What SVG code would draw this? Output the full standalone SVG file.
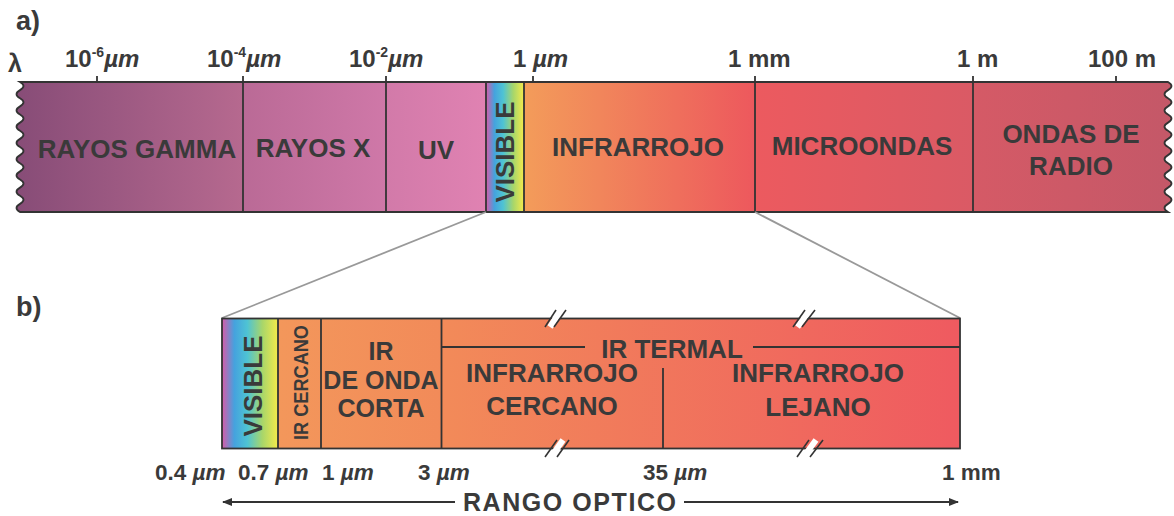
<svg xmlns="http://www.w3.org/2000/svg" width="1174" height="516" viewBox="0 0 1174 516">
<defs>
<style>
.t{font-family:"Liberation Sans",Arial,sans-serif;font-weight:bold;fill:#3a3a3a}
.lb{font-size:26px;text-anchor:middle}
.lc{font-size:25px;text-anchor:middle}
.tk{font-size:24px}
.bt{font-size:22.5px}
.div{stroke:#333;stroke-width:1.8;fill:none}
.cn{stroke:#999;stroke-width:1.8;fill:none}
.sl{stroke:#333;stroke-width:1.6}
.gap{stroke:#fff;stroke-width:6}
</style>
<linearGradient id="gGamma" gradientUnits="userSpaceOnUse" x1="15" y1="0" x2="243" y2="0"><stop offset="0" stop-color="#874c77"/><stop offset="1" stop-color="#b6698f"/></linearGradient>
<linearGradient id="gX" gradientUnits="userSpaceOnUse" x1="243" y1="0" x2="386" y2="0"><stop offset="0" stop-color="#ba6a96"/><stop offset="1" stop-color="#cf78a8"/></linearGradient>
<linearGradient id="gUV" gradientUnits="userSpaceOnUse" x1="386" y1="0" x2="486" y2="0"><stop offset="0" stop-color="#d27aa9"/><stop offset="1" stop-color="#e082b2"/></linearGradient>
<linearGradient id="gVis" x1="0" y1="0" x2="1" y2="0"><stop offset="0" stop-color="#d85aa8"/><stop offset="0.22" stop-color="#45a2de"/><stop offset="0.45" stop-color="#4ec3d4"/><stop offset="0.72" stop-color="#a8d66a"/><stop offset="1" stop-color="#f5ea4a"/></linearGradient>
<linearGradient id="gIR" gradientUnits="userSpaceOnUse" x1="524" y1="0" x2="755" y2="0"><stop offset="0" stop-color="#f39c5a"/><stop offset="1" stop-color="#ed585d"/></linearGradient>
<linearGradient id="gMW" gradientUnits="userSpaceOnUse" x1="755" y1="0" x2="973" y2="0"><stop offset="0" stop-color="#ec5a5f"/><stop offset="1" stop-color="#da5a65"/></linearGradient>
<linearGradient id="gRad" gradientUnits="userSpaceOnUse" x1="973" y1="0" x2="1172" y2="0"><stop offset="0" stop-color="#d55a66"/><stop offset="1" stop-color="#c45868"/></linearGradient>
<linearGradient id="gB" gradientUnits="userSpaceOnUse" x1="278" y1="0" x2="960" y2="0"><stop offset="0" stop-color="#f3975b"/><stop offset="0.25" stop-color="#f28a59"/><stop offset="1" stop-color="#ef5a60"/></linearGradient>
<clipPath id="barClip"><path id="barPath" d="M20,82 H1168 q7,4.0625 0,8.125 q-7,4.0625 0,8.125 q7,4.0625 0,8.125 q-7,4.0625 0,8.125 q7,4.0625 0,8.125 q-7,4.0625 0,8.125 q7,4.0625 0,8.125 q-7,4.0625 0,8.125 q7,4.0625 0,8.125 q-7,4.0625 0,8.125 q7,4.0625 0,8.125 q-7,4.0625 0,8.125 q7,4.0625 0,8.125 q-7,4.0625 0,8.125 q7,4.0625 0,8.125 q-7,4.0625 0,8.125 H20 q-7,-4.0625 0,-8.125 q7,-4.0625 0,-8.125 q-7,-4.0625 0,-8.125 q7,-4.0625 0,-8.125 q-7,-4.0625 0,-8.125 q7,-4.0625 0,-8.125 q-7,-4.0625 0,-8.125 q7,-4.0625 0,-8.125 q-7,-4.0625 0,-8.125 q7,-4.0625 0,-8.125 q-7,-4.0625 0,-8.125 q7,-4.0625 0,-8.125 q-7,-4.0625 0,-8.125 q7,-4.0625 0,-8.125 q-7,-4.0625 0,-8.125 q7,-4.0625 0,-8.125 Z"/></clipPath>
<marker id="ah" viewBox="0 0 10 10" refX="9" refY="5" markerWidth="10" markerHeight="10" markerUnits="userSpaceOnUse" orient="auto-start-reverse"><path d="M0,1 L10,5 L0,9 Z" fill="#333"/></marker>
</defs>

<rect width="1174" height="516" fill="#fff"/>

<text class="t" x="16" y="30" font-size="27">a)</text>
<text class="t" x="16" y="316" font-size="27">b)</text>

<g id="scale-top">
<text class="t" x="8" y="72" font-size="25" font-weight="normal">λ</text>
<text class="t tk" x="65" y="67">10<tspan font-size="14" dy="-10">-6</tspan><tspan dy="10" font-style="italic">µm</tspan></text>
<text class="t tk" x="207" y="67">10<tspan font-size="14" dy="-10">-4</tspan><tspan dy="10" font-style="italic">µm</tspan></text>
<text class="t tk" x="349" y="67">10<tspan font-size="14" dy="-10">-2</tspan><tspan dy="10" font-style="italic">µm</tspan></text>
<text class="t tk" x="513" y="67">1 <tspan font-style="italic">µm</tspan></text>
<text class="t tk" x="728" y="67">1 mm</text>
<text class="t tk" x="957" y="67">1 m</text>
<text class="t tk" x="1088" y="67">100 m</text>
<path class="div" d="M97,76 V82 M533,76 V82 M1116,76 V82"/>
</g>

<g id="spectrum-bar">
<g clip-path="url(#barClip)">
<rect x="10" y="80" width="233" height="134" fill="url(#gGamma)"/>
<rect x="243" y="80" width="143" height="134" fill="url(#gX)"/>
<rect x="386" y="80" width="100" height="134" fill="url(#gUV)"/>
<rect x="486" y="80" width="38" height="134" fill="url(#gVis)"/>
<rect x="524" y="80" width="231" height="134" fill="url(#gIR)"/>
<rect x="755" y="80" width="218" height="134" fill="url(#gMW)"/>
<rect x="973" y="80" width="200" height="134" fill="url(#gRad)"/>
</g>
<use href="#barPath" class="div"/>
<path class="div" d="M243,76 V212 M386,76 V212 M486,82 V212 M524,82 V212 M755,76 V212 M973,76 V212"/>
</g>

<g id="n-gamma"><text class="t lb" x="137" y="158">RAYOS GAMMA</text></g>
<g id="n-x"><text class="t lb" x="313" y="157">RAYOS X</text></g>
<g id="n-uv"><text class="t lb" x="436" y="159">UV</text></g>
<g id="n-visible"><text class="t lb" transform="translate(514,152) rotate(-90)">VISIBLE</text></g>
<g id="n-ir"><text class="t lb" x="638" y="156">INFRARROJO</text></g>
<g id="n-mw"><text class="t lb" x="862" y="155">MICROONDAS</text></g>
<g id="n-radio"><text class="t lb" x="1071" y="143">ONDAS DE</text><text class="t lb" x="1071" y="175">RADIO</text></g>

<g id="connectors">
<line class="cn" x1="486" y1="212" x2="222" y2="318"/>
<line class="cn" x1="755" y1="212" x2="960" y2="318"/>
<line x1="455" y1="502" x2="223" y2="502" stroke="#333" stroke-width="1.8" marker-end="url(#ah)"/>
<line x1="684" y1="502" x2="958" y2="502" stroke="#333" stroke-width="1.8" marker-end="url(#ah)"/>
</g>

<g id="detail-bar">
<rect x="222" y="318.5" width="56" height="130" fill="url(#gVis)"/>
<rect x="278" y="318.5" width="682" height="130" fill="url(#gB)"/>
<rect class="div" x="222" y="318.5" width="738" height="130"/>
<path class="div" d="M278,318.5 V448.5 M321,318.5 V448.5 M441.5,318.5 V448.5 M663,368 V448.5 M441.5,347 H585 M753,347 H960"/>
<g id="breaks">
<line class="gap" x1="550" y1="327" x2="561" y2="310"/>
<line class="sl" x1="545" y1="327" x2="556" y2="310"/><line class="sl" x1="554" y1="327" x2="566" y2="310"/>
<line class="gap" x1="797.5" y1="327" x2="810" y2="310"/>
<line class="sl" x1="793" y1="327" x2="805" y2="310"/><line class="sl" x1="802" y1="327" x2="815" y2="310"/>
<line class="gap" x1="551" y1="457" x2="563" y2="440"/>
<line class="sl" x1="545" y1="457" x2="557" y2="440"/><line class="sl" x1="557" y1="457" x2="569" y2="440"/>
<line class="gap" x1="803.5" y1="457" x2="816" y2="440"/>
<line class="sl" x1="797" y1="457" x2="809" y2="440"/><line class="sl" x1="810" y1="457" x2="823" y2="440"/>
</g>
</g>

<g id="b-visible"><text class="t lb" transform="translate(262,386) rotate(-90)">VISIBLE</text></g>
<g id="b-ircercano"><text class="t" font-size="21" text-anchor="middle" textLength="115" lengthAdjust="spacingAndGlyphs" transform="translate(308,382.5) rotate(-90)">IR CERCANO</text></g>
<g id="b-swir"><text class="t lc" x="381" y="360">IR</text><text class="t lc" x="381" y="389">DE ONDA</text><text class="t lc" x="381" y="417">CORTA</text></g>
<g id="b-irtermal"><text class="t lb" x="672" y="358">IR TERMAL</text></g>
<g id="b-nir"><text class="t lb" x="552" y="382">INFRARROJO</text><text class="t lb" x="552" y="415">CERCANO</text></g>
<g id="b-fir"><text class="t lb" x="818" y="382">INFRARROJO</text><text class="t lb" x="818" y="416">LEJANO</text></g>

<g id="scale-bottom">
<text class="t bt" x="155" y="480">0.4 <tspan font-style="italic">µm</tspan></text>
<text class="t bt" x="238" y="480">0.7 <tspan font-style="italic">µm</tspan></text>
<text class="t bt" x="322" y="480">1 <tspan font-style="italic">µm</tspan></text>
<text class="t bt" x="418" y="480">3 <tspan font-style="italic">µm</tspan></text>
<text class="t bt" x="643" y="480">35 <tspan font-style="italic">µm</tspan></text>
<text class="t bt" x="942" y="480">1 mm</text>
</g>
<g id="rango"><text class="t" font-size="25" x="463" y="511" textLength="213" lengthAdjust="spacing">RANGO OPTICO</text></g>
</svg>
